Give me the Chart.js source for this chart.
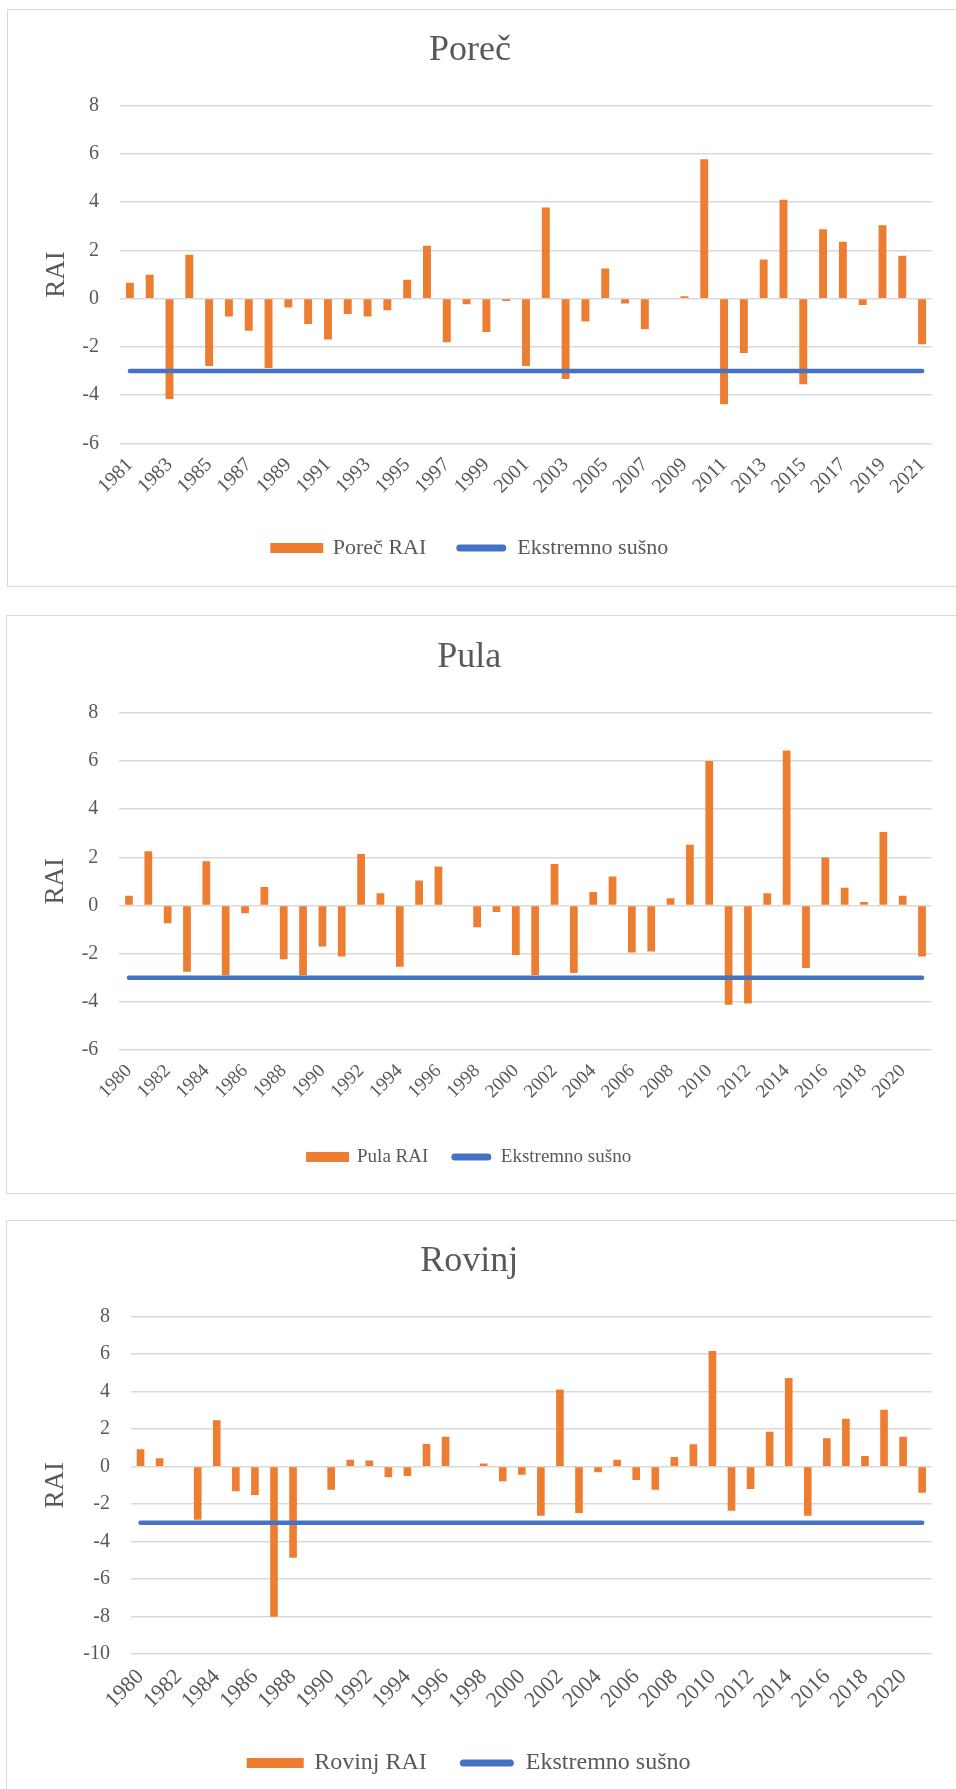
<!DOCTYPE html>
<html>
<head>
<meta charset="utf-8">
<script src="https://cdn.jsdelivr.net/npm/chart.js@4.4.1/dist/chart.umd.min.js"></script>
<style>
  body { margin: 0; background: #fff; width: 956px; height: 1789px; overflow: hidden; position: relative; }
  .panel { position: absolute; border: 1.5px solid #d9d9d9; box-sizing: border-box; }
  canvas { position: absolute; }
</style>
</head>
<body>
<div class="panel" style="left:7px; top:9px; width:970px; height:578px;"></div>
<div class="panel" style="left:6px; top:615px; width:970px; height:579px;"></div>
<div class="panel" style="left:6px; top:1220px; width:970px; height:600px;"></div>
<canvas id="porecChart" width="948" height="576" style="left:8px; top:10px;"></canvas>
<canvas id="pulaChart" width="949" height="576" style="left:7px; top:617px;"></canvas>
<canvas id="rovinjChart" width="949" height="567" style="left:7px; top:1222px;"></canvas>
<script>
// years on the category axes
const yearsFrom1981 = ["1981", "1982", "1983", "1984", "1985", "1986", "1987", "1988", "1989", "1990",
    "1991", "1992", "1993", "1994", "1995", "1996", "1997", "1998", "1999", "2000",
    "2001", "2002", "2003", "2004", "2005", "2006", "2007", "2008", "2009", "2010",
    "2011", "2012", "2013", "2014", "2015", "2016", "2017", "2018", "2019", "2020", "2021"];
const yearsFrom1980 = ["1980", "1981", "1982", "1983", "1984", "1985", "1986", "1987", "1988", "1989", "1990",
    "1991", "1992", "1993", "1994", "1995", "1996", "1997", "1998", "1999", "2000",
    "2001", "2002", "2003", "2004", "2005", "2006", "2007", "2008", "2009", "2010",
    "2011", "2012", "2013", "2014", "2015", "2016", "2017", "2018", "2019", "2020", "2021"];

// RAI values
const porecRai = [0.66, 0.99, -4.16, 1.82, -2.79, -0.74, -1.33, -2.88, -0.37, -1.05,
    -1.70, -0.64, -0.74, -0.48, 0.78, 2.19, -1.81, -0.23, -1.38, -0.10,
    -2.79, 3.78, -3.33, -0.95, 1.25, -0.20, -1.27, 0, 0.10, 5.78,
    -4.38, -2.26, 1.62, 4.10, -3.55, 2.88, 2.36, -0.26, 3.04, 1.78, -1.89];
const pulaRai = [0.40, 2.25, -0.74, -2.75, 1.83, -2.90, -0.32, 0.77, -2.23, -2.90, -1.70,
    -2.12, 2.14, 0.51, -2.54, 1.04, 1.62, 0, -0.91, -0.27, -2.06,
    -2.89, 1.72, -2.80, 0.56, 1.20, -1.95, -1.91, 0.30, 2.52, 6.00,
    -4.12, -4.07, 0.51, 6.43, -2.60, 1.99, 0.73, 0.14, 3.05, 0.40, -2.12];
const rovinjRai = [0.92, 0.44, 0, -2.84, 2.48, -1.31, -1.52, -8.01, -4.86, 0, -1.24,
    0.37, 0.32, -0.57, -0.50, 1.20, 1.60, 0, 0.16, -0.78, -0.44,
    -2.62, 4.11, -2.48, -0.30, 0.37, -0.71, -1.24, 0.51, 1.19, 6.17,
    -2.36, -1.19, 1.86, 4.73, -2.62, 1.52, 2.55, 0.57, 3.03, 1.60, -1.40];

// "Ekstremno sušno" threshold
const porecExtreme = [-3, -3, -3, -3, -3, -3, -3, -3, -3, -3, -3, -3, -3, -3, -3, -3, -3, -3, -3, -3,
    -3, -3, -3, -3, -3, -3, -3, -3, -3, -3, -3, -3, -3, -3, -3, -3, -3, -3, -3, -3, -3];
const pulaExtreme = [-3, -3, -3, -3, -3, -3, -3, -3, -3, -3, -3, -3, -3, -3, -3, -3, -3, -3, -3, -3, -3,
    -3, -3, -3, -3, -3, -3, -3, -3, -3, -3, -3, -3, -3, -3, -3, -3, -3, -3, -3, -3, -3];
const rovinjExtreme = [-3, -3, -3, -3, -3, -3, -3, -3, -3, -3, -3, -3, -3, -3, -3, -3, -3, -3, -3, -3, -3,
    -3, -3, -3, -3, -3, -3, -3, -3, -3, -3, -3, -3, -3, -3, -3, -3, -3, -3, -3, -3, -3];

// y axis ranges [min, max, step]
const porecYAxis = [-6, 8, 2];
const pulaYAxis = [-6, 8, 2];
const rovinjYAxis = [-10, 8, 2];

const ORANGE = "#ed7d31";
const BLUE = "#4472c4";
const TEXT = "#595959";
const GRID = "#d9d9d9";
const FONT = "'Liberation Serif', 'Times New Roman', serif";

function makeChart(id, title, barLabel, years, values, extreme, yAxis, lay) {
    const ctx = document.getElementById(id);
    return new Chart(ctx, {
        data: {
            labels: years,
            datasets: [
                {
                    type: "bar",
                    label: barLabel,
                    data: values,
                    backgroundColor: ORANGE,
                    borderWidth: 0,
                    categoryPercentage: 0.4,
                    barPercentage: 1,
                    order: 2,
                },
                {
                    type: "line",
                    label: "Ekstremno sušno",
                    data: extreme,
                    borderColor: BLUE,
                    backgroundColor: BLUE,
                    borderWidth: 4.5,
                    borderCapStyle: "round",
                    pointRadius: 0,
                    fill: false,
                    order: 1,
                },
            ],
        },
        options: {
            responsive: false,
            animation: false,
            layout: {
                padding: { left: 0, right: lay.right, top: 0, bottom: lay.bottom },
            },
            plugins: {
                tooltip: { enabled: false },
                title: {
                    display: true,
                    text: title,
                    color: TEXT,
                    font: { family: FONT, size: 36, weight: "normal", lineHeight: 1.2 },
                    padding: { top: lay.titleTop, bottom: lay.titleBottom },
                },
                legend: {
                    position: "bottom",
                    labels: {
                        color: TEXT,
                        font: { family: FONT, size: lay.legendFont, lineHeight: 1.2 },
                        boxWidth: lay.boxWidth,
                        boxHeight: 7,
                        padding: lay.legendPad,
                        generateLabels: function (chart) {
                            return chart.data.datasets.map(function (ds, i) {
                                const isLine = ds.type === "line";
                                return {
                                    text: ds.label,
                                    fillStyle: isLine ? BLUE : ORANGE,
                                    strokeStyle: isLine ? BLUE : ORANGE,
                                    lineWidth: isLine ? 0 : 3,
                                    borderRadius: isLine ? 3.5 : 0,
                                    fontColor: TEXT,
                                    hidden: false,
                                    datasetIndex: i,
                                };
                            });
                        },
                    },
                },
            },
            scales: {
                x: {
                    grid: { display: false },
                    border: { display: false },
                    ticks: {
                        autoSkip: false,
                        minRotation: 45,
                        maxRotation: 45,
                        padding: 2,
                        color: TEXT,
                        font: { family: FONT, size: lay.xFont },
                        callback: function (value, index) {
                            return index % 2 === 0 ? this.getLabelForValue(value) : "";
                        },
                    },
                    afterFit: function (scale) {
                        scale.height = lay.xHeight;
                    },
                },
                y: {
                    min: yAxis[0],
                    max: yAxis[1],
                    ticks: {
                        stepSize: yAxis[2],
                        padding: 21,
                        color: TEXT,
                        font: { family: FONT, size: 20 },
                    },
                    grid: { color: GRID, lineWidth: 1.4, drawTicks: false },
                    border: { display: false },
                    title: {
                        display: true,
                        text: "RAI",
                        color: TEXT,
                        font: { family: FONT, size: 27, lineHeight: 1.2 },
                        padding: { top: lay.raiPad, bottom: 0 },
                    },
                    afterFit: function (scale) {
                        scale.width = lay.yWidth;
                    },
                },
            },
        },
    });
}

document.addEventListener("DOMContentLoaded", function () {
    makeChart("porecChart", "Poreč", "Poreč RAI", yearsFrom1981, porecRai, porecExtreme, porecYAxis, {
        right: 24, bottom: 17, titleTop: 19.4, titleBottom: 33.1,
        legendFont: 22, legendPad: 30, boxWidth: 50, xFont: 20,
        xHeight: 63.7, yWidth: 112, raiPad: 32.5,
    });

    makeChart("pulaChart", "Pula", "Pula RAI", yearsFrom1980, pulaRai, pulaExtreme, pulaYAxis, {
        right: 24.3, bottom: 16.5, titleTop: 19.4, titleBottom: 33.1,
        legendFont: 19, legendPad: 23, boxWidth: 40, xFont: 19,
        xHeight: 74.5, yWidth: 112.3, raiPad: 32.5,
    });

    makeChart("rovinjChart", "Rovinj", "Rovinj RAI", yearsFrom1980, rovinjRai, rovinjExtreme, rovinjYAxis, {
        right: 24.3, bottom: 4, titleTop: 18.4, titleBottom: 33.1,
        legendFont: 24, legendPad: 33, boxWidth: 54, xFont: 22,
        xHeight: 64, yWidth: 124, raiPad: 32.8,
    });
});
</script>
</body>
</html>
